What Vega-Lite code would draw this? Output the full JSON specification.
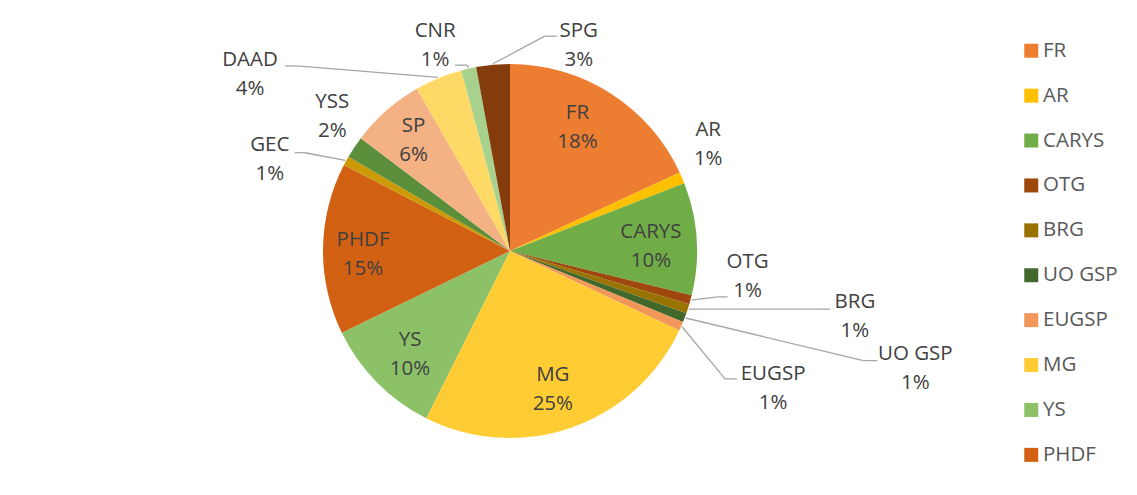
{
  "$schema": "https://vega.github.io/schema/vega-lite/v6.json",
  "width": 1020,
  "height": 488,
  "autosize": "none",
  "padding": {"left": 0, "top": 7, "right": 117, "bottom": 0},
  "background": "white",
  "config": {"view": {"stroke": null}},
  "data": {
    "values": [
      {"category": "FR", "value": 0.181},
      {"category": "AR", "value": 0.010},
      {"category": "CARYS", "value": 0.097},
      {"category": "OTG", "value": 0.008},
      {"category": "BRG", "value": 0.008},
      {"category": "UO GSP", "value": 0.008},
      {"category": "EUGSP", "value": 0.008},
      {"category": "MG", "value": 0.254},
      {"category": "YS", "value": 0.104},
      {"category": "PHDF", "value": 0.148},
      {"category": "GEC", "value": 0.008},
      {"category": "YSS", "value": 0.019},
      {"category": "SP", "value": 0.064},
      {"category": "DAAD", "value": 0.041},
      {"category": "CNR", "value": 0.013},
      {"category": "SPG", "value": 0.029}
    ]
  },
  "transform": [
    {"window": [{"op": "row_number", "as": "idx"}]},
    {"window": [{"op": "sum", "field": "value", "as": "v1"}], "sort": [{"field": "idx"}], "frame": [null, 0]},
    {"calculate": "datum.v1 - datum.value", "as": "v0"},
    {"calculate": "PI * (datum.v0 + datum.v1)", "as": "ang"},
    {"calculate": "({'FR':[-4,141],'AR':[-5.2,225],'CARYS':[1.8,141],'OTG':[-8.9,239],'BRG':[-7.3,351],'UO GSP':[-4.7,422],'EUGSP':[3.9,297],'MG':[1.9,145],'YS':[-1.4,144],'PHDF':[-1.9,147],'GEC':[-8,257],'YSS':[3.5,223],'SP':[0.4,147],'DAAD':[-33.4,314],'CNR':[-7.2,219],'SPG':[23.7,217]})[datum.category] || [0,143]", "as": "lp"},
    {"calculate": "datum.ang + datum.lp[0] * PI / 180", "as": "la"},
    {"calculate": "datum.lp[1] * sin(datum.la)", "as": "lx"},
    {"calculate": "datum.lp[1] * cos(datum.la)", "as": "ly"},
    {"calculate": "[datum.category, format(datum.value, '.0%')]", "as": "label"},
    {"calculate": "({'SPG':[-22,9,-12],'CNR':[20,-20,12],'DAAD':[35,9,12],'GEC':[25,7,10],'OTG':[-20,-20,-10],'BRG':[-25,7,-12],'UO GSP':[-38,8,-14],'EUGSP':[-36,10,-12]})[datum.category] || null", "as": "ld"}
  ],
  "layer": [
    {
      "mark": {"type": "arc", "outerRadius": 187},
      "encoding": {
        "theta": {"field": "v0", "type": "quantitative", "stack": null, "scale": {"domain": [0, 1]}},
        "theta2": {"field": "v1"},
        "color": {
          "field": "category",
          "type": "nominal",
          "sort": null,
          "scale": {
            "domain": ["FR", "AR", "CARYS", "OTG", "BRG", "UO GSP", "EUGSP", "MG", "YS", "PHDF", "GEC", "YSS", "SP", "DAAD", "CNR", "SPG"],
            "range": ["#ED7D31", "#FFC000", "#70AD47", "#9E480E", "#997300", "#43682B", "#F1975A", "#FFCD33", "#8CC168", "#D26012", "#CC9A06", "#5B8F3C", "#F4B183", "#FFD966", "#A9D18E", "#843C0C"]
          },
          "legend": {
            "orient": "none",
            "legendX": 1021,
            "legendY": 33.5,
            "values": ["FR", "AR", "CARYS", "OTG", "BRG", "UO GSP", "EUGSP", "MG", "YS", "PHDF"],
            "title": null,
            "symbolType": "square",
            "symbolSize": 196,
            "symbolStrokeWidth": 0,
            "labelFont": "Open Sans",
            "labelFontSize": 20.5,
            "labelColor": "#595959",
            "labelOffset": 1.5,
            "rowPadding": 23.9,
            "padding": 0
          }
        }
      }
    },
    {
      "transform": [
        {"filter": "isValid(datum.ld)"},
        {"calculate": "188 * sin(datum.ang)", "as": "sx"},
        {"calculate": "188 * cos(datum.ang)", "as": "sy"},
        {"calculate": "datum.lx + datum.ld[0]", "as": "ex"},
        {"calculate": "datum.ly + datum.ld[1]", "as": "ey"},
        {"calculate": "datum.ex + datum.ld[2]", "as": "bx"}
      ],
      "layer": [
        {
          "mark": {"type": "rule", "color": "#A6A6A6", "strokeWidth": 1.3},
          "encoding": {
            "x": {"field": "sx", "type": "quantitative", "scale": {"domain": [-510, 510], "nice": false, "zero": false}, "axis": null},
            "y": {"field": "sy", "type": "quantitative", "scale": {"domain": [-244, 244], "nice": false, "zero": false}, "axis": null},
            "x2": {"field": "bx"},
            "y2": {"field": "ey"}
          }
        },
        {
          "mark": {"type": "rule", "color": "#A6A6A6", "strokeWidth": 1.3},
          "encoding": {
            "x": {"field": "bx", "type": "quantitative", "scale": {"domain": [-510, 510], "nice": false, "zero": false}, "axis": null},
            "y": {"field": "ey", "type": "quantitative", "scale": {"domain": [-244, 244], "nice": false, "zero": false}, "axis": null},
            "x2": {"field": "ex"},
            "y2": {"field": "ey"}
          }
        }
      ]
    },
    {
      "mark": {"type": "text", "font": "Open Sans", "fontSize": 20.5, "color": "#404040", "align": "center", "baseline": "middle", "lineHeight": 29, "dy": -14.5},
      "encoding": {
        "x": {"field": "lx", "type": "quantitative", "scale": {"domain": [-510, 510], "nice": false, "zero": false}, "axis": null},
        "y": {"field": "ly", "type": "quantitative", "scale": {"domain": [-244, 244], "nice": false, "zero": false}, "axis": null},
        "text": {"field": "label"}
      }
    }
  ]
}
